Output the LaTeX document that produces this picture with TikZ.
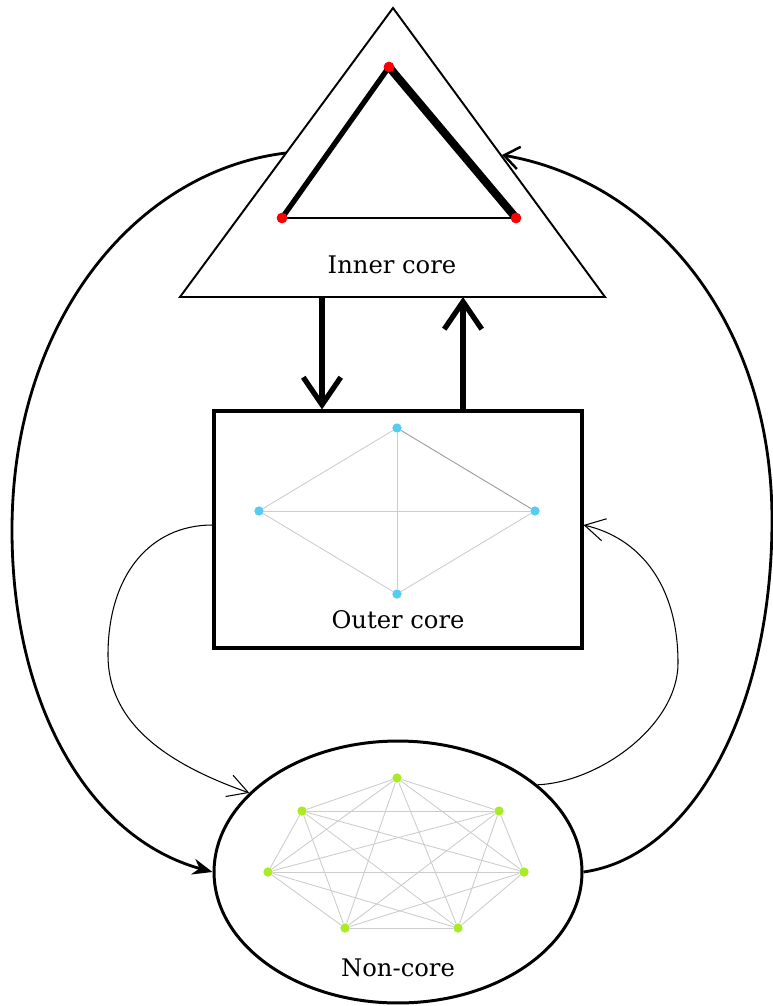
\documentclass[tikz,border=0pt]{standalone}
\usepackage{fontspec}
\setmainfont{DejaVu Serif}
\usetikzlibrary{shapes.geometric,arrows.meta,calc}
\definecolor{reddot}{RGB}{255,0,0}
\definecolor{bluedot}{RGB}{85,205,240}
\definecolor{greendot}{RGB}{170,235,40}
\tikzset{
  lbl/.style={font=\fontsize{13.8}{16}\selectfont, inner sep=0pt},
  gedge/.style={draw=gray!40, line width=0.5pt},
  rdot/.style={circle, fill=reddot, inner sep=0pt, minimum size=0.21cm},
  bdot/.style={circle, fill=bluedot, inner sep=0pt, minimum size=0.18cm},
  gdot/.style={circle, fill=greendot, inner sep=0pt, minimum size=0.18cm},
  bigcurve/.style={line width=1.6pt, -{Straight Barb[length=0.3cm,width=0.45cm,line width=1.4pt]}},
  leftcurve/.style={line width=1.6pt, -{Stealth[length=0.4cm,width=0.32cm]}},
  thincurve/.style={line width=0.6pt, -{Straight Barb[length=0.4cm,width=0.45cm,line width=0.6pt]}},
  vertarrow/.style={line width=3pt, -{Straight Barb[length=0.55cm,width=0.75cm,line width=3pt]}},
}
\begin{document}
\begin{tikzpicture}[x=0.02cm,y=0.02cm]
\useasboundingbox (0,0) rectangle (773,-1006);
% outer triangle
\coordinate (T1) at (393,-8);
\coordinate (T2) at (180,-297);
\coordinate (T3) at (605,-297);
\draw[line width=1.1pt, line join=miter] (T1) -- (T2) -- (T3) -- cycle;
% inner triangle
\node[rdot] (I1) at (389,-67) {};
\node[rdot] (I2) at (282,-218) {};
\node[rdot] (I3) at (516,-218) {};
\draw[line width=3pt] (I1.center) -- (I2.center);
\draw[line width=4.6pt] (I1.center) -- (I3.center);
\draw[line width=1.2pt] (I2.center) -- (I3.center);
\node[rdot] at (I1) {};
\node[rdot] at (I2) {};
\node[rdot] at (I3) {};
\node[lbl] (innerlbl) at (392,-265) {Inner core};
% outer core rectangle
\node[draw, line width=1.8pt, minimum width=7.36cm, minimum height=4.74cm, inner sep=0pt] (outer) at (398,-529.5) {};
\node[bdot] (b1) at (397,-428) {};
\node[bdot] (b2) at (259,-511) {};
\node[bdot] (b3) at (535,-511) {};
\node[bdot] (b4) at (397,-594) {};
\draw[gedge] (b1) -- (b2);
\draw[gedge, draw=gray!80] (b1) -- (b3);
\draw[gedge] (b1) -- (b4);
\draw[gedge] (b2) -- (b3);
\draw[gedge] (b2) -- (b4);
\draw[gedge] (b3) -- (b4);
\node[lbl] (outerlbl) at (398,-620) {Outer core};
% non-core ellipse
\node[draw, ellipse, line width=1.7pt, minimum width=7.36cm, minimum height=5.24cm, inner sep=0pt] (noncore) at (398,-872) {};
\node[gdot] (g1) at (397,-778) {};
\node[gdot] (g2) at (499,-811) {};
\node[gdot] (g3) at (524,-872) {};
\node[gdot] (g4) at (458,-928) {};
\node[gdot] (g5) at (345,-928) {};
\node[gdot] (g6) at (268,-872) {};
\node[gdot] (g7) at (302,-811) {};
\foreach \a/\b in {g1/g2,g1/g3,g1/g4,g1/g5,g1/g6,g1/g7,
                   g2/g3,g2/g4,g2/g5,g2/g6,g2/g7,
                   g3/g4,g3/g5,g3/g6,g3/g7,
                   g4/g5,g4/g6,g4/g7,
                   g5/g6,g5/g7,
                   g6/g7}
  \draw[gedge] (\a) -- (\b);
\foreach \n in {g1,g2,g3,g4,g5,g6,g7} \node[gdot] at (\n) {};
\foreach \n in {b1,b2,b3,b4} \node[bdot] at (\n) {};
\node[lbl] (noncorelbl) at (398,-968) {Non-core};
% vertical arrows between inner core and outer core
\coordinate (a1) at (322,-297);
\coordinate (a2) at (463,-297);
\draw[vertarrow] (a1) -- (a1 |- outer.north);
\draw[vertarrow] (a2 |- outer.north) -- (a2);
% big left curve: inner core -> non-core
\coordinate (L1) at (286,-153);
\coordinate (Lmid) at (12,-530);
\draw[leftcurve] (L1) .. controls (135,-171) and (12,-322) .. (Lmid)
  .. controls (12,-705) and (89,-838) .. (noncore.west);
% big right curve: non-core -> inner core
\coordinate (R1) at (502,-155);
\coordinate (Rmid) at (772,-520);
\draw[bigcurve] (noncore.east) .. controls (692,-857) and (772,-710) .. (Rmid)
  .. controls (772,-320) and (652,-181) .. (R1);
% thin left curve: outer core -> non-core
\coordinate (tl) at (108,-655);
\draw[thincurve] ([yshift=0.09cm]outer.west) .. controls (150,-525) and (108,-575) .. (tl)
  .. controls (108,-725) and (170,-765) .. (noncore.152);
% thin right curve: non-core -> outer core
\coordinate (tr) at (678,-663);
\draw[thincurve] (noncore.32) .. controls (600,-782) and (678,-725) .. (tr)
  .. controls (678,-585) and (640,-538) .. ([yshift=0.09cm]outer.east);
\end{tikzpicture}
\end{document}
